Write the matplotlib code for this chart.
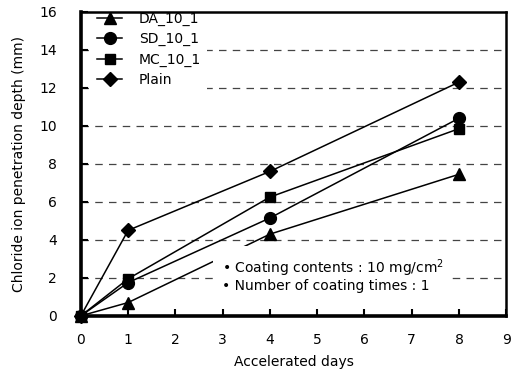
import numpy as np
import matplotlib.pyplot as plt

# Accelerated days and penetration depths (mm)
dias = [0, 1, 4, 8]
da_10_1 = [0, 0.7, 4.3, 7.45]
sd_10_1 = [0, 1.75, 5.15, 10.4]
mc_10_1 = [0, 1.95, 6.25, 9.85]
plain = [0, 4.5, 7.6, 12.3]

series = [('DA_10_1', da_10_1, '^'),
          ('SD_10_1', sd_10_1, 'o'),
          ('MC_10_1', mc_10_1, 's'),
          ('Plain', plain, 'D')]

plt.rcParams['font.family'] = ['DejaVu Sans']

fig = plt.figure(figsize=(5.15, 3.81), dpi=100)
ax = fig.add_axes([0.157, 0.171, 0.826, 0.798])

# dashed horizontal grid
for y in range(2, 16, 2):
    ax.axhline(y, color='#444444', lw=0.9, dashes=(6, 5), zorder=1)

sizes = {'^': 8, 'o': 8.5, 's': 7.5, 'D': 7}
for nombre, valores, m in series:
    ax.plot(dias, valores, color='black', lw=1.1, marker=m,
            ms=sizes[m], mfc='black', mec='black', label=nombre, zorder=3,
            clip_on=False)

ax.set_xlim(0, 9)
ax.set_ylim(0, 16)
ax.set_xticks(range(0, 10))
ax.set_yticks(range(0, 17, 2))
ax.tick_params(direction='in', length=5, width=1.5, labelsize=10,
               colors='black')
ax.tick_params(axis='x', pad=12)
ax.tick_params(axis='y', pad=17)
ax.set_xlabel('Accelerated days', fontsize=10, labelpad=6)
ax.set_ylabel('Chloride ion penetration depth (mm)', fontsize=10, labelpad=10)

for lado in ['left', 'bottom']:
    ax.spines[lado].set_linewidth(2.6)
for lado in ['right', 'top']:
    ax.spines[lado].set_linewidth(1.8)
for s in ax.spines.values():
    s.set_zorder(10)

leg = ax.legend(loc='upper left', bbox_to_anchor=(0.014, 1.035), fontsize=10,
                handlelength=1.8, handletextpad=1.2, labelspacing=0.45,
                borderpad=0.45, borderaxespad=0.3, frameon=True,
                fancybox=False)
leg.get_frame().set_facecolor('white')
leg.get_frame().set_edgecolor('none')
leg.get_frame().set_alpha(1)
leg.set_zorder(5)

ax.text(2.98, 1.2,
        '• Coating contents : 10 mg/cm$^2$\n• Number of coating times : 1',
        fontsize=10, linespacing=1.0, va='bottom', ha='left', zorder=6,
        bbox=dict(facecolor='white', edgecolor='none', pad=6))

fig.savefig('out.png', dpi=100)
